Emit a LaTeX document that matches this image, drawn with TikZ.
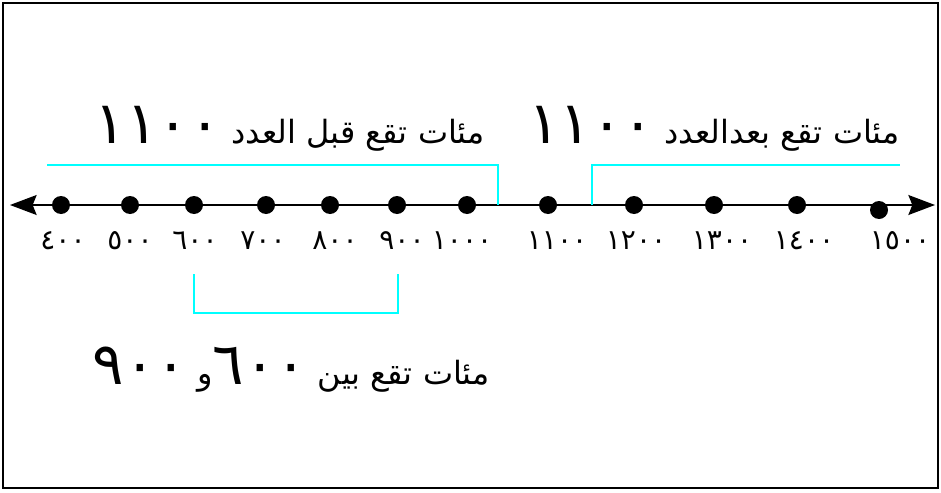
\documentclass[tikz,border=0pt]{standalone}
\usepackage{fontspec}
\usepackage{tikz}
\usetikzlibrary{arrows.meta}
\newfontfamily\arabicfont[Script=Arabic]{DejaVu Sans}
\TeXXeTstate=1
\definecolor{aqua}{RGB}{0,255,255}
\tikzstyle{point}=[circle,fill=black,inner sep=0mm,minimum size=13.5pt]
\tikzstyle{tick}=[font=\arabicfont\fontsize{21}{24}\selectfont,anchor=north,inner sep=0pt]
\tikzstyle{span}=[draw=aqua,line width=2pt]
\tikzstyle{phrase}=[font=\arabicfont\fontsize{24}{28}\selectfont,inner sep=0pt,anchor=base east]
\tikzstyle{axis}=[{Stealth[length=20pt,width=15pt,inset=3pt]}-{Stealth[length=20pt,width=15pt,inset=3pt]},line width=1pt]
\newcommand\bignum[1]{{\fontsize{44}{48}\selectfont\beginL #1\endL}}

\begin{document}
\begin{tikzpicture}[x=0.75pt,y=-0.75pt]
      \useasboundingbox (0,0) rectangle (941,492);
      \draw[line width=2pt] (3,3) rectangle (938,488);
      % number line
      \coordinate (lft) at (10,205);
      \coordinate (rgt) at (935,205);
      \draw[axis] (lft)--(rgt);
      \node[point] at (61,205) (p4) {};
      \node[point] at (130,205) (p5) {};
      \node[point] at (194,205) (p6) {};
      \node[point] at (266,205) (p7) {};
      \node[point] at (330,205) (p8) {};
      \node[point] at (397,205) (p9) {};
      \node[point] at (467,205) (p10) {};
      \node[point] at (548,205) (p11) {};
      \node[point] at (634,205) (p12) {};
      \node[point] at (714,205) (p13) {};
      \node[point] at (797,205) (p14) {};
      \node[point] at (879,210) (p15) {};
      \node[tick] at (63,231) (n4) {٤٠٠};
      \node[tick] at (130,231) (n5) {٥٠٠};
      \node[tick] at (195,231) (n6) {٦٠٠};
      \node[tick] at (263,231) (n7) {٧٠٠};
      \node[tick] at (335,231) (n8) {٨٠٠};
      \node[tick] at (402,231) (n9) {٩٠٠};
      \node[tick] at (462,231) (n10) {١٠٠٠};
      \node[tick] at (557,231) (n11) {١١٠٠};
      \node[tick] at (636,231) (n12) {١٢٠٠};
      \node[tick] at (722,231) (n13) {١٣٠٠};
      \node[tick] at (804,231) (n14) {١٤٠٠};
      \node[tick] at (900,231) (n15) {١٥٠٠};
      % brackets
      \coordinate (b1) at (47,165);
      \coordinate (b2) at (498,165);
      \coordinate (b3) at (498,205);
      \coordinate (a1) at (592,205);
      \coordinate (a2) at (592,165);
      \coordinate (a3) at (900,165);
      \coordinate (m1) at (194,274);
      \coordinate (m2) at (194,313);
      \coordinate (m3) at (398,313);
      \coordinate (m4) at (398,274);
      \draw[span] (b1)--(b2)--(b3);
      \draw[span] (a1)--(a2)--(a3);
      \draw[span] (m1)--(m2)--(m3)--(m4);
      % labels
      \node[phrase] at (485,143) (before) {\beginR مئات تقع قبل العدد \bignum{١١٠٠}\endR};
      \node[phrase] at (900,143) (after) {\beginR مئات تقع بعدالعدد \bignum{١١٠٠}\endR};
      \node[phrase] at (490,384) (between) {\beginR مئات تقع بين \bignum{٦٠٠}و \bignum{٩٠٠}\endR};
\end{tikzpicture}
\end{document}
